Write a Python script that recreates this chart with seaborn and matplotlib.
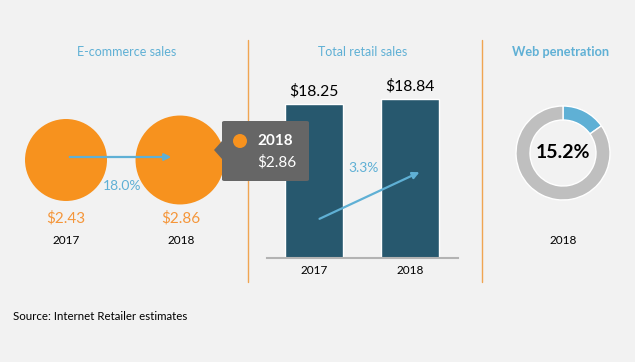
import numpy as np
import pandas as pd
import matplotlib
matplotlib.use("Agg")
import matplotlib.pyplot as plt
import seaborn as sns

# datos
anos = ["2017", "2018"]
ecommerce = [2.43, 2.86]
varejo_total = [18.25, 18.84]
cresc_ecommerce = "18.0%"
cresc_varejo = "3.3%"
penetracao = 15.2
ano_penetracao = "2018"
fonte = "Source: Internet Retailer estimates"

W, H = 635, 362
FUNDO = "#f2f2f2"
LARANJA = "#f7921e"
LARANJA_TXT = "#f5963a"
AZUL = "#5fb0d5"
BARRA = "#27586e"
CINZA = "#bfbfbf"

sns.set_theme(style="white")
plt.rcParams["font.family"] = ["Lato", "DejaVu Sans"]

fig = plt.figure(figsize=(W / 100, H / 100), dpi=100, facecolor=FUNDO)


def px(x, y):
    # pixel -> fracao da figura
    return x / W, 1 - y / H


def eixo(x0, y0, x1, y1):
    return fig.add_axes([x0 / W, 1 - y1 / H, (x1 - x0) / W, (y1 - y0) / H])


def texto(x, y, s, **kw):
    fx, fy = px(x, y)
    fig.text(fx, fy, s, ha=kw.pop("ha", "center"), va=kw.pop("va", "center"), **kw)


def seta(x0, y0, x1, y1):
    fig.patches.append(matplotlib.patches.FancyArrowPatch(
        px(x0, y0), px(x1, y1), transform=fig.transFigure, arrowstyle="-|>",
        mutation_scale=10, color=AZUL, lw=1.6))


# ---- E-commerce (circulos com area proporcional) ----
ax1 = eixo(0, 100, 248, 220)
ax1.set_facecolor("none")
df1 = pd.DataFrame({"pos": [0, 1], "y": [0, 0], "valor": ecommerce})
k = 3484 / ecommerce[0]
sns.scatterplot(data=df1, x="pos", y="y", s=[v * k for v in ecommerce],
                color=LARANJA, edgecolor="none", ax=ax1, legend=False, zorder=2)
ax1.set_xlim(-66 / 114, (248 - 66) / 114)
ax1.set_ylim(-1, 1)
ax1.axis("off")

texto(127, 52, "E-commerce sales", color=AZUL, fontsize=9)
seta(67, 157, 174, 157)
texto(122, 186, cresc_ecommerce, color=AZUL, fontsize=10)
for xc, v, a in zip([66, 181], ecommerce, anos):
    texto(xc, 218, f"${v:.2f}", color=LARANJA_TXT, fontsize=11)
    texto(xc, 240, a, color="black", fontsize=8.5)

# tooltip
tip = matplotlib.patches.FancyBboxPatch(px(222, 181), 87 / W, 60 / H,
                                        boxstyle="round,pad=0,rounding_size=0.004",
                                        transform=fig.transFigure, fc="#666666", ec="none", zorder=5)
fig.patches.append(tip)
fig.patches.append(matplotlib.patches.Polygon([px(222, 141), px(214, 150), px(222, 159)],
                                              closed=True, transform=fig.transFigure,
                                              fc="#666666", ec="none", zorder=5))
fig.patches.append(matplotlib.patches.Ellipse(px(240, 141), 14 / W, 14 / H,
                                              transform=fig.transFigure, fc=LARANJA, ec="none", zorder=6))
texto(257, 141, anos[1], color="white", fontsize=11, fontweight="bold", ha="left", zorder=7)
texto(257, 162, f"${ecommerce[1]:.2f}", color="white", fontsize=11, ha="left", zorder=7)

# separadores
for xs in [248, 482]:
    fig.add_artist(plt.Line2D([xs / W, xs / W], [1 - 40 / H, 1 - 282 / H],
                              transform=fig.transFigure, color="#f0a552", lw=1))

# ---- Varejo total (barras) ----
ax2 = eixo(267, 80, 458, 258)
ax2.set_facecolor("none")
df2 = pd.DataFrame({"ano": anos, "valor": varejo_total})
sns.barplot(data=df2, x="ano", y="valor", color=BARRA, saturation=1, width=0.604,
            ax=ax2, zorder=1)
ax2.set_xlim(-0.49, 1.5)
ax2.set_ylim(0, 178 / 8.44)
ax2.set_xlabel("")
ax2.set_ylabel("")
ax2.set_yticks([])
for s in ["top", "right", "left"]:
    ax2.spines[s].set_visible(False)
ax2.spines["bottom"].set_color("#b3b3b3")
ax2.spines["bottom"].set_linewidth(1.5)
ax2.tick_params(axis="x", length=0, labelsize=8.5, pad=5, colors="black")
for i, v in enumerate(varejo_total):
    ax2.annotate(f"${v:.2f}", (i, v), xytext=(0, 4), textcoords="offset points",
                 ha="center", va="bottom", fontsize=11.3, color="black")

texto(363, 52, "Total retail sales", color=AZUL, fontsize=9)
seta(317, 220, 422, 171)
texto(364, 168, cresc_varejo, color=AZUL, fontsize=10)

# ---- Penetracao web (rosca) ----
ax3 = eixo(513, 103, 613, 203)
ax3.pie([penetracao, 100 - penetracao], colors=[AZUL, CINZA], startangle=90,
        counterclock=False, radius=1.175,
        wedgeprops=dict(width=0.35, edgecolor="white", linewidth=1))
ax3.set_facecolor("none")
texto(563, 153, f"{penetracao:.1f}%", color="black", fontsize=14, fontweight="bold")
texto(561, 52, "Web penetration", color=AZUL, fontsize=9.2, fontweight="bold")
texto(563, 240, ano_penetracao, color="black", fontsize=8.5)

texto(13, 316, fonte, color="black", fontsize=8.3, ha="left")

fig.savefig("out.png", dpi=100, facecolor=FUNDO)
